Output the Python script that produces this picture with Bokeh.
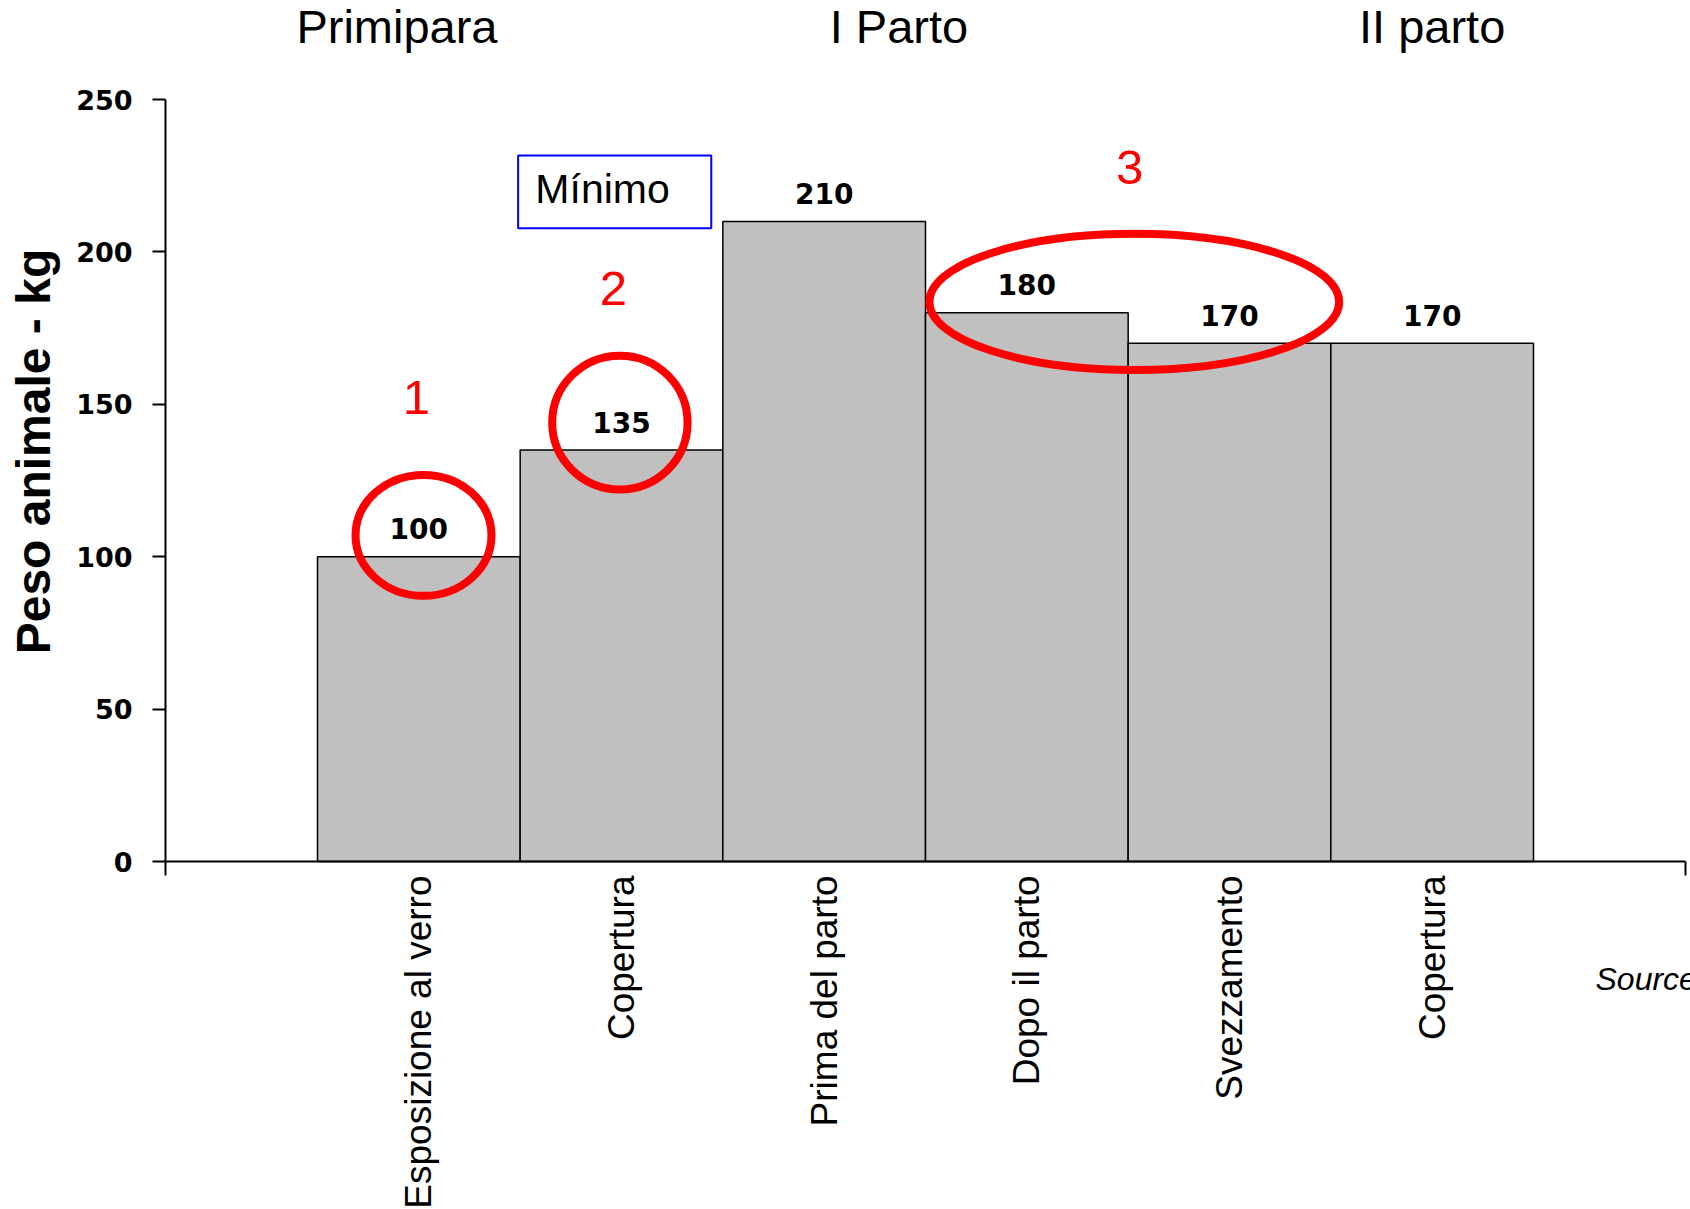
import math

from bokeh.plotting import figure
from bokeh.models import Range1d, FixedTicker, ColumnDataSource
from bokeh.core.properties import value
from bokeh.embed import file_html
from bokeh.resources import INLINE

# Live weight of the sow at each stage of her reproductive life
stages = ["Esposizione al verro", "Copertura", "Prima del parto",
          "Dopo il parto", "Svezzamento", "Copertura"]
weights = [100, 135, 210, 180, 170, 170]
y_ticks = [0, 50, 100, 150, 200, 250]
phases = ["Primipara", "I Parto", "II parto"]
markers = ["1", "2", "3"]

positions = list(range(len(stages)))

# Canvas geometry: the frame fills the whole canvas, the axes sit at fixed
# locations so that headings and notes can be drawn around them.
W, H = 1690, 1209
AXIS_LEFT_PX, AXIS_BOTTOM_PX = 165, 861
X_START, X_END = -1.25, len(stages) + 0.25
Y_START, Y_END = 0, 250
PX_PER_X = (W - 5 - AXIS_LEFT_PX) / (X_END - X_START)
PX_PER_Y = 762 / (Y_END - Y_START)

x_range = Range1d(X_START - AXIS_LEFT_PX / PX_PER_X,
                  X_START + (W - AXIS_LEFT_PX) / PX_PER_X)
y_range = Range1d(-(H - AXIS_BOTTOM_PX) / PX_PER_Y, AXIS_BOTTOM_PX / PX_PER_Y)

p = figure(width=W, height=H, output_backend="svg", toolbar_location=None,
           x_range=x_range, y_range=y_range, min_border=0)
p.outline_line_color = None
p.grid.visible = False
p.background_fill_color = "white"
p.border_fill_color = "white"

# Bars
src = ColumnDataSource(dict(x=positions, top=weights,
                            label=[str(w) for w in weights]))
p.vbar(x="x", top="top", bottom=0, width=1.0, source=src,
       fill_color="#C0C0C0", line_color="black", line_width=1.5)

# Value labels above the bars
p.text(x="x", y="top", text="label", source=src, text_align="center",
       text_baseline="middle", y_offset=-28,
       text_font=value("DejaVu Sans"), text_font_style="bold",
       text_font_size="28px", text_color="black")

# "Mínimo" box
p.quad(left=[0.490], right=[1.443], bottom=[207.8], top=[231.6],
       fill_color="white", line_color="#0000FF", line_width=2)
p.text(x=[0.575], y=[220.6], text=["Mínimo"], text_align="left",
       text_baseline="middle", text_font=value("Liberation Sans"),
       text_font_size="41px", text_color="black")

# Red highlight rings
p.ellipse(x=[0.023, 0.992, 3.53], y=[107.0, 144.0, 183.6],
          width=[0.671, 0.668, 2.022], height=[39.7, 43.9, 44.7],
          fill_color=None, line_color="#FF0000", line_width=8)

# Red step numbers
p.text(x=[-0.012, 0.96, 3.507], y=[152.2, 188.0, 227.7], text=markers,
       text_align="center", text_baseline="middle",
       text_font=value("Liberation Sans"), text_font_size="49px",
       text_color="#FF0000")

# Phase headings above the plot
p.text(x=[-0.108, 2.369, 5.0], y=[273.9] * 3, text=phases,
       text_align="center", text_baseline="middle",
       text_font=value("Liberation Sans"), text_font_size="47px",
       text_color="black")

# Vertical axis title
p.text(x=[-1.90], y=[134.5], text=["Peso animale - kg"], angle=math.pi / 2,
       text_align="center", text_baseline="middle",
       text_font=value("Liberation Sans"), text_font_style="bold",
       text_font_size="48px", text_color="black")

# Source note
p.text(x=[5.806], y=[-38.6], text=["Source"], text_align="left",
       text_baseline="middle", text_font=value("Liberation Sans"),
       text_font_style="italic", text_font_size="32px", text_color="black")

# Y axis
ya = p.yaxis[0]
ya.fixed_location = X_START
ya.bounds = (Y_START, Y_END)
ya.ticker = FixedTicker(ticks=y_ticks)
ya.axis_line_width = 2
ya.major_tick_line_width = 2
ya.major_tick_out = 13
ya.major_tick_in = 0
ya.minor_tick_line_color = None
ya.major_label_standoff = 20
ya.major_label_text_font = "DejaVu Sans"
ya.major_label_text_font_style = "bold"
ya.major_label_text_font_size = "27px"
ya.major_label_text_color = "black"

# X axis: stage names, with end ticks only
xa = p.xaxis[0]
xa.fixed_location = Y_START
xa.bounds = (X_START, X_END)
xa.ticker = FixedTicker(ticks=positions, minor_ticks=[X_START, X_END])
xa.major_label_overrides = {i: s for i, s in enumerate(stages)}
xa.major_label_orientation = math.pi / 2
xa.axis_line_width = 2
xa.major_tick_out = 14
xa.major_tick_in = 0
xa.major_tick_line_color = None
xa.minor_tick_out = 14
xa.minor_tick_in = 0
xa.minor_tick_line_width = 2
xa.minor_tick_line_color = "black"
xa.major_label_standoff = 0
xa.major_label_text_font = "Liberation Sans"
xa.major_label_text_font_size = "37px"
xa.major_label_text_color = "black"

open("out.html", "w").write(file_html(p, INLINE))
